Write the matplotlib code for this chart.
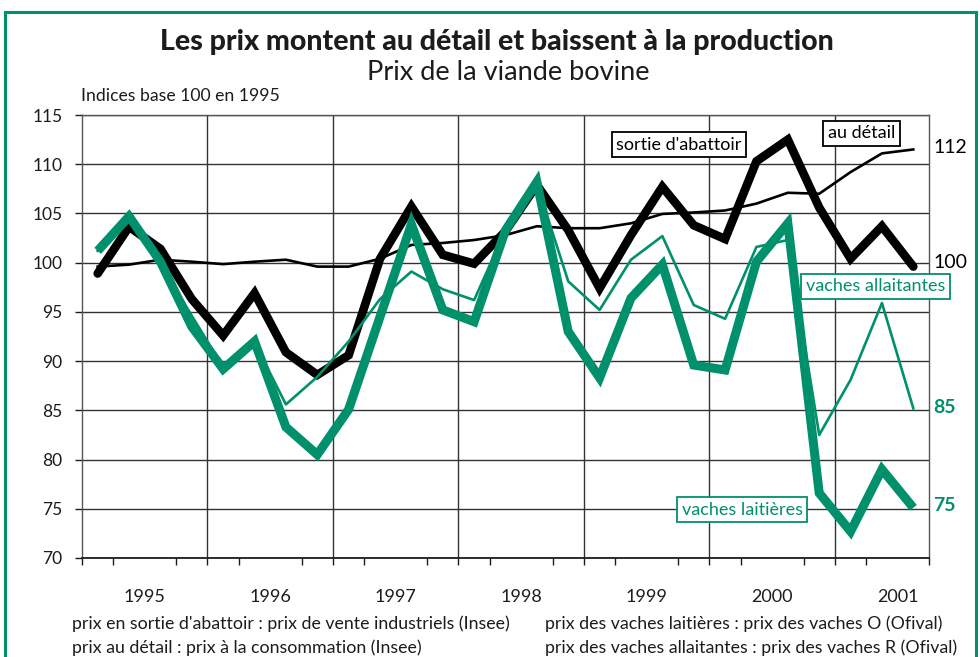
import matplotlib
matplotlib.use("Agg")
import matplotlib.pyplot as plt
from matplotlib.lines import Line2D
import numpy as np

# Indices base 100 en 1995, trimestriels, 1995T1 -> 2001T3
years = [1995, 1996, 1997, 1998, 1999, 2000, 2001]
sortie_abattoir = [98.9, 103.65, 101.4, 96.3, 92.6, 96.9, 90.9, 88.6, 90.6, 100.4, 105.7, 100.8,
                   99.9, 103.2, 107.9, 103.3, 97.4, 102.8, 107.7, 103.8, 102.4, 110.3, 112.5,
                   105.6, 100.4, 103.7, 99.6]
au_detail = [99.6, 99.8, 100.3, 100.1, 99.85, 100.1, 100.3, 99.6, 99.6, 100.4, 101.8, 102.0,
             102.3, 102.8, 103.7, 103.5, 103.5, 104.0, 104.95, 105.1, 105.3, 106.0, 107.1,
             107.0, 109.2, 111.1, 111.5]
vaches_laitieres = [101.2, 104.7, 100.1, 93.5, 89.2, 92.0, 83.3, 80.5, 85.1, 94.5, 103.9, 95.2,
                    94.0, 103.3, 108.2, 93.0, 88.3, 96.4, 99.8, 89.6, 89.1, 100.1, 104.0,
                    76.6, 72.7, 79.0, 75.1]
vaches_allaitantes = [101.2, 104.7, 100.0, 94.6, 89.4, 91.9, 85.6, 88.4, 92.0, 96.3, 99.1, 97.3,
                      96.2, 103.3, 108.0, 98.1, 95.2, 100.3, 102.7, 95.7, 94.3, 101.6, 102.3,
                      82.5, 88.1, 95.9, 85.2]
end_labels = ["112", "100", "85", "75"]
end_values = [111.7, 100.0, 85.3, 75.3]

GREEN = "#00906c"
INK = "#1c1c1c"

plt.rcParams["font.family"] = ["Lato", "DejaVu Sans"]

W, H = 980, 657
fig = plt.figure(figsize=(W / 100, H / 100), dpi=100)

# cadre vert
for xs, ys in [([5, 976], [12, 12]), ([5, 5], [12, H + 5]), ([976, 976], [12, H + 5])]:
    fig.add_artist(Line2D([x / W for x in xs], [1 - y / H for y in ys], color=GREEN, lw=2.2))

fig.text(497 / W, 1 - 42 / H, "Les prix montent au détail et baissent à la production",
         fontsize=20.5, fontweight=900, ha="center", va="center", color=INK)
fig.text(508 / W, 1 - 73 / H, "Prix de la viande bovine", fontsize=19.5, ha="center", va="center", color=INK)
fig.text(81 / W, 1 - 96 / H, "Indices base 100 en 1995", fontsize=12.7, ha="left", va="center", color=INK)

ax = fig.add_axes([82 / W, 1 - 558 / H, 847 / W, 443 / H])
n = len(sortie_abattoir)
x = np.arange(n) + 0.5

ax.set_xlim(0, 27)
ax.set_ylim(70, 115)
ax.set_yticks(np.arange(70, 116, 5))
ax.tick_params(axis="y", direction="out", length=5, width=1, pad=9, labelsize=12.5, colors=INK)
ax.yaxis.grid(True, color="#333333", lw=1)
for k in range(4, 27, 4):
    ax.axvline(k, color="#333333", lw=1, zorder=1)

ax.set_xticks(np.arange(0, 28), minor=True)
ax.set_xticks(np.arange(2, 27, 4))
ax.set_xticklabels([str(y) for y in years])
ax.tick_params(axis="x", which="minor", direction="out", length=5, width=1, color=INK)
ax.tick_params(axis="x", which="major", length=0, pad=22, labelsize=13, labelcolor=INK)
for s in ["left", "top", "right"]:
    ax.spines[s].set_color("#555555")
    ax.spines[s].set_linewidth(1)
ax.spines["bottom"].set_color(INK)
ax.spines["bottom"].set_linewidth(1.3)
ax.set_axisbelow(True)

ax.plot(x, au_detail, color="black", lw=1.9, zorder=3)
ax.plot(x, sortie_abattoir, color="black", lw=6.2, solid_capstyle="round", solid_joinstyle="miter", zorder=4)
ax.plot(x, vaches_allaitantes, color=GREEN, lw=1.9, zorder=5)
ax.plot(x, vaches_laitieres, color=GREEN, lw=6.5, solid_capstyle="butt", solid_joinstyle="miter", zorder=6)

# valeurs en bout de courbe
trans = ax.get_yaxis_transform()
colors_end = ["black", "black", GREEN, GREEN]
weights_end = ["normal", "normal", "bold", "bold"]
for lab, v, c, wgt in zip(end_labels, end_values, colors_end, weights_end):
    ax.text(1.005, v, lab, transform=trans, ha="left", va="center", fontsize=14,
            color=c, fontweight=wgt, clip_on=False)

# étiquettes encadrées
box_k = dict(boxstyle="square,pad=0.25", fc="white", ec="black", lw=1.3)
box_g = dict(boxstyle="square,pad=0.25", fc="white", ec=GREEN, lw=1.3)
ax.text(19.03, 112.0, "sortie d'abattoir", ha="center", va="center", fontsize=13, color="black", bbox=box_k, zorder=8)
ax.text(24.85, 113.17, "au détail", ha="center", va="center", fontsize=13, color="black", bbox=box_k, zorder=8)
ax.text(25.29, 97.58, "vaches allaitantes", ha="center", va="center", fontsize=13, color=GREEN, bbox=box_g, zorder=8)
ax.text(21.04, 74.92, "vaches laitières", ha="center", va="center", fontsize=13, color=GREEN, bbox=box_g, zorder=8)

# sources
fig.text(72 / W, 1 - 624 / H, "prix en sortie d'abattoir : prix de vente industriels (Insee)",
         fontsize=12.8, ha="left", va="center", color=INK)
fig.text(72 / W, 1 - 648 / H, "prix au détail : prix à la consommation (Insee)",
         fontsize=12.8, ha="left", va="center", color=INK)
fig.text(545 / W, 1 - 624 / H, "prix des vaches laitières : prix des vaches O (Ofival)",
         fontsize=12.8, ha="left", va="center", color=INK)
fig.text(545 / W, 1 - 648 / H, "prix des vaches allaitantes : prix des vaches R (Ofival)",
         fontsize=12.8, ha="left", va="center", color=INK)

fig.savefig("out.png", dpi=100)
